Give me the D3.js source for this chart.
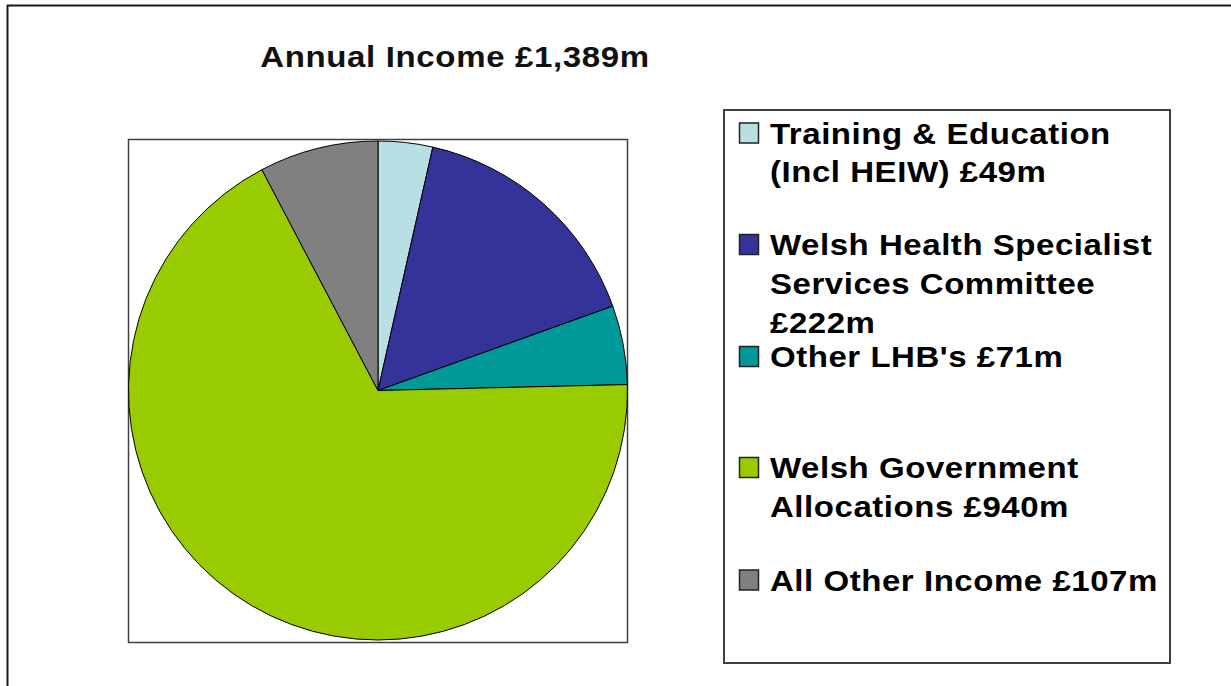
<!DOCTYPE html>
<html>
<head>
<meta charset="utf-8">
<script src="https://cdn.jsdelivr.net/npm/d3@7"></script>
<style>
  body { margin: 0; background: #fff; }
  svg { display: block; font-family: "Liberation Sans", Arial, sans-serif; }
</style>
</head>
<body>
<div id="chart"></div>
<script>
var title = 'Annual Income \u00a31,389m';
var categories = ['Training & Education (Incl HEIW)', 'Welsh Health Specialist Services Committee',
                  'Other LHB\'s', 'Welsh Government Allocations', 'All Other Income'];
var values = [49, 222, 71, 940, 107];
var colours = ['#b8e0e4', '#333399', '#009999', '#99cc00', '#808080'];
// legend text as it wraps in the original
var legendLines = [
  ['Training & Education', '(Incl HEIW) \u00a349m'],
  ['Welsh Health Specialist', 'Services Committee', '\u00a3222m'],
  ['Other LHB\'s \u00a371m'],
  ['Welsh Government', 'Allocations \u00a3940m'],
  ['All Other Income \u00a3107m']
];

var w = 1231, h = 686;
var stretch = 1.1; // the original text is rendered a little wide

var svg = d3.select('#chart').append('svg')
  .attr('width', w)
  .attr('height', h);

// outer chart frame (runs off the right/bottom edges)
svg.append('rect')
  .attr('x', 7.5).attr('y', 5.5)
  .attr('width', 1240).attr('height', 700)
  .attr('fill', 'none')
  .attr('stroke', '#1a1a1a')
  .attr('stroke-width', 2);

svg.append('text')
  .attr('transform', 'translate(455,67) scale(' + stretch + ',1)')
  .attr('text-anchor', 'middle')
  .attr('font-size', 30)
  .attr('font-weight', 'bold')
  .attr('letter-spacing', 0.6)
  .attr('fill', '#111')
  .text(title);

// plot area box
svg.append('rect')
  .attr('x', 128.5).attr('y', 139.5)
  .attr('width', 499).attr('height', 503)
  .attr('fill', 'none')
  .attr('stroke', '#404040')
  .attr('stroke-width', 1.5);

var cx = 378, cy = 390.5, r = 249.5;
var pie = d3.pie().sort(null).value(function(d) { return d; });
var arc = d3.arc().innerRadius(0).outerRadius(r);

svg.append('g')
  .attr('transform', 'translate(' + cx + ',' + cy + ')')
  .selectAll('path')
  .data(pie(values))
  .join('path')
    .attr('d', arc)
    .attr('fill', function(d, i) { return colours[i]; })
    .attr('stroke', '#000')
    .attr('stroke-width', 1);

// legend
svg.append('rect')
  .attr('x', 724).attr('y', 110)
  .attr('width', 446).attr('height', 553)
  .attr('fill', '#fff')
  .attr('stroke', '#404040')
  .attr('stroke-width', 2);

var baselines = [143.5, 255, 367, 478, 590.5];
var lineGap = 39;

var items = svg.append('g').selectAll('g')
  .data(categories)
  .join('g')
    .attr('transform', function(d, i) { return 'translate(739,' + baselines[i] + ')'; });

items.append('rect')
  .attr('x', 0.5).attr('y', -20.5)
  .attr('width', 19).attr('height', 20)
  .attr('fill', function(d, i) { return colours[i]; })
  .attr('stroke', '#222')
  .attr('stroke-width', 1.5);

items.append('text')
  .attr('transform', 'translate(31,0) scale(' + stretch + ',1)')
  .attr('font-size', 30)
  .attr('font-weight', 'bold')
  .attr('letter-spacing', 0.5)
  .attr('fill', '#000')
  .selectAll('tspan')
  .data(function(d, i) { return legendLines[i]; })
  .join('tspan')
    .attr('x', 0)
    .attr('y', function(d, j) { return j * lineGap; })
    .text(function(d) { return d; });
</script>
</body>
</html>
